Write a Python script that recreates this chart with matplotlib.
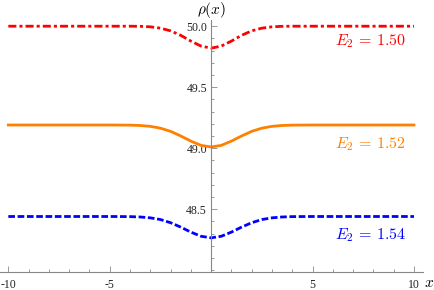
import matplotlib
matplotlib.use("Agg")
import matplotlib.pyplot as plt
from matplotlib.ticker import MultipleLocator, FixedLocator

plt.rcParams['mathtext.fontset'] = 'cm'
plt.rcParams['lines.scale_dashes'] = False

# sample positions along x
x_vals = [-10, -5, -4, -3.5, -3, -2.5, -2, -1.5, -1, -0.5, 0,
          0.5, 1, 1.5, 2, 2.5, 3, 3.5, 4, 5, 10]

rho_150 = [50.0, 50.0, 50.0, 49.999, 49.995, 49.984, 49.962, 49.925, 49.878, 49.837, 49.82,
           49.837, 49.878, 49.925, 49.962, 49.984, 49.995, 49.999, 50.0, 50.0, 50.0]
rho_152 = [49.19, 49.19, 49.189, 49.186, 49.179, 49.164, 49.138, 49.100, 49.058, 49.023, 49.01,
           49.023, 49.058, 49.100, 49.138, 49.164, 49.179, 49.186, 49.189, 49.19, 49.19]
rho_154 = [48.44, 48.44, 48.439, 48.436, 48.429, 48.415, 48.389, 48.353, 48.312, 48.278, 48.265,
           48.278, 48.312, 48.353, 48.389, 48.415, 48.429, 48.436, 48.439, 48.44, 48.44]

labels = [r"$E_2\,=\,1.50$", r"$E_2\,=\,1.52$", r"$E_2\,=\,1.54$"]
label_y = [49.875, 49.035, 48.285]

x_ticks = [-10, -5, 5, 10]
y_ticks = [48.5, 49.0, 49.5, 50.0]

W, H = 435, 290
fig = plt.figure(figsize=(W / 100, H / 100), dpi=100)
ax = fig.add_axes([0, 18 / H, 422.7 / W, 251.9 / H])
ax.set_xlim(-10.41, 10.43)
ax.set_ylim(47.985, 50.05)

ax.plot(x_vals, rho_150, color=(1, 0, 0), lw=2.0, linestyle=(0, (5.8, 2.2, 2.2, 2.2)))
ax.plot(x_vals, rho_152, color=(1, 0.5, 0), lw=2.0, linestyle='-')
ax.plot(x_vals, rho_154, color=(0, 0, 1), lw=2.0, linestyle=(0, (4.8, 1.9)))

colors = [(1, 0, 0), (1, 0.5, 0), (0, 0, 1)]
for lab, yy, c in zip(labels, label_y, colors):
    ax.text(9.6, yy, lab, color=c, fontsize=11.5, ha='right', va='center')

for s in ['top', 'right']:
    ax.spines[s].set_visible(False)
ax.spines['left'].set_position(('data', 0))
for s in ['left', 'bottom']:
    ax.spines[s].set_color('#888888')
    ax.spines[s].set_linewidth(0.8)

ax.xaxis.set_major_locator(FixedLocator(x_ticks))
ax.xaxis.set_minor_locator(MultipleLocator(1))
ax.yaxis.set_major_locator(FixedLocator(y_ticks))
ax.yaxis.set_minor_locator(MultipleLocator(0.1))
ax.set_xticklabels([str(t) for t in x_ticks])
ax.set_yticklabels([f"{t:.1f}" for t in y_ticks])

for lbl in ax.get_xticklabels() + ax.get_yticklabels():
    lbl.set_family('Liberation Serif')
    lbl.set_fontsize(8.5)
    lbl.set_color('#222222')

ax.tick_params(axis='both', which='major', direction='in', length=4, width=0.6, color='#888888', pad=3)
ax.tick_params(axis='both', which='minor', direction='in', length=2.5, width=0.6, color='#888888')
ax.tick_params(axis='x', which='major', pad=5)

ax.text(0, 50.13, r"$\rho(x)$", fontsize=11, ha='center', va='center', clip_on=False)
ax.text(10.75, 47.9, r"$x$", fontsize=11, ha='center', va='center', clip_on=False)

fig.savefig("out.png", dpi=100)
